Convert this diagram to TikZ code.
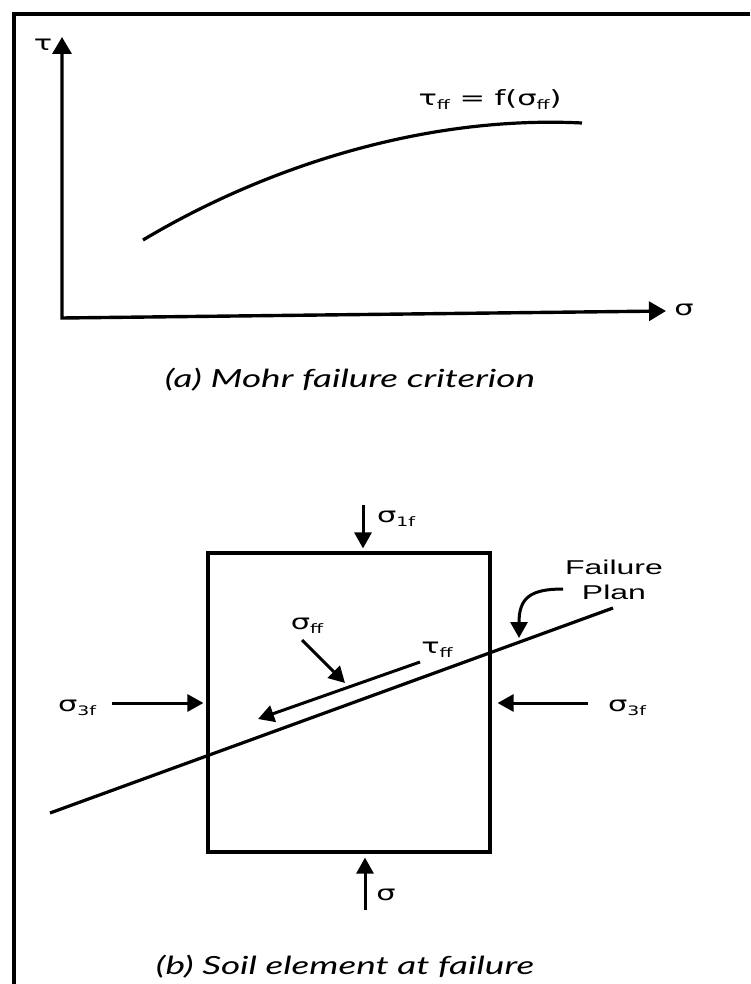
\documentclass[tikz,border=0pt]{standalone}
\usepackage{fontspec}
\setmainfont{Liberation Sans}
\newfontfamily\capfont{Lato}
\newfontfamily\lab{DejaVu Sans}
\usetikzlibrary{arrows.meta}
\newcommand\sbs[1]{\raisebox{-0.35ex}{\fontsize{13}{13}\selectfont #1}}
\newcommand\hs[1]{\scalebox{1.45}[1]{#1}}
\begin{document}
\begin{tikzpicture}[x=1pt,y=-1pt,
  every node/.style={inner sep=0pt, font=\lab\fontsize{21}{25}\selectfont},
  axes/.style={line width=3.4pt, line join=miter, {Triangle[length=17pt,width=19pt]}-{Triangle[length=17pt,width=19pt]}},
  force/.style={line width=3pt, -{Triangle[length=16pt,width=17pt]}},
  thick line/.style={line width=3.2pt},
  capt/.style={font=\capfont\itshape\fontsize{25}{28}\selectfont},
  fplab/.style={font=\fontsize{20}{25}\selectfont, align=center}]
\useasboundingbox (0,0) rectangle (750,984);
% frame
\draw[line width=4pt] (12,14) -- (750,14);
\draw[line width=4pt] (14,12) -- (14,984);
% part a
\coordinate (O) at (62,318);
\coordinate (Ty) at (62,37);
\coordinate (Sx) at (666,311);
\draw[axes] (Ty) -- (O) -- (Sx);
\node (tau) at (43,45) {\hs{τ}};
\node (sig) at (684,310) {\hs{σ}};
\coordinate (c1) at (143,240);
\coordinate (c2) at (582,123);
\draw[thick line] (c1) .. controls (260,170) and (420,115) .. (c2);
\node (crit) at (490,100) {\hs{τ\sbs{f{}f} = f(σ\sbs{f{}f})}};
\node[capt] (capa) at (350,380) {\scalebox{1.48}[1]{(a) Mohr failure criterion}};
% part b
\node[draw, thick line, minimum width=282pt, minimum height=299pt] (elem) at (349,702.5) {};
\coordinate (t1) at (363,505);
\draw[force, shorten >=3pt] (t1) -- (t1 |- elem.north);
\node (s1) at (396,519) {\hs{σ\sbs{1f}}};
\coordinate (b1) at (365,910);
\draw[force, shorten >=4pt] (b1) -- (b1 |- elem.south);
\node (sb) at (386,895) {\hs{σ}};
\coordinate (l1) at (112,703);
\draw[force, shorten >=3pt] (l1) -- (l1 -| elem.west);
\node (s3l) at (77,708) {\hs{σ\sbs{3f}}};
\coordinate (r1) at (588,703);
\draw[force, shorten >=6pt] (r1) -- (r1 -| elem.east);
\node (s3r) at (627,708) {\hs{σ\sbs{3f}}};
% failure plane
\coordinate (p1) at (50,813);
\coordinate (p2) at (613,608);
\draw[thick line] (p1) -- (p2);
\coordinate (tt1) at (420,662);
\coordinate (tt2) at (258,719);
\draw[force] (tt1) -- (tt2);
\node (tff) at (437,650) {\hs{τ\sbs{f{}f}}};
\coordinate (sf1) at (302,640);
\coordinate (sf2) at (345,683);
\draw[force] (sf1) -- (sf2);
\node (sff) at (307,626) {\hs{σ\sbs{f{}f}}};
\node[fplab] (fp1) at (614,567) {\scalebox{1.6}[1]{Failure}};
\node[fplab] (fp2) at (614,592) {\scalebox{1.6}[1]{Plan}};
\coordinate (fs) at (563,589);
\coordinate (fa) at (519,638);
\draw[force] (fs) .. controls (530,589) and (519,598) .. (fa);
\node[capt] (capb) at (345,967) {\scalebox{1.48}[1]{(b) Soil element at failure}};
\end{tikzpicture}
\end{document}
